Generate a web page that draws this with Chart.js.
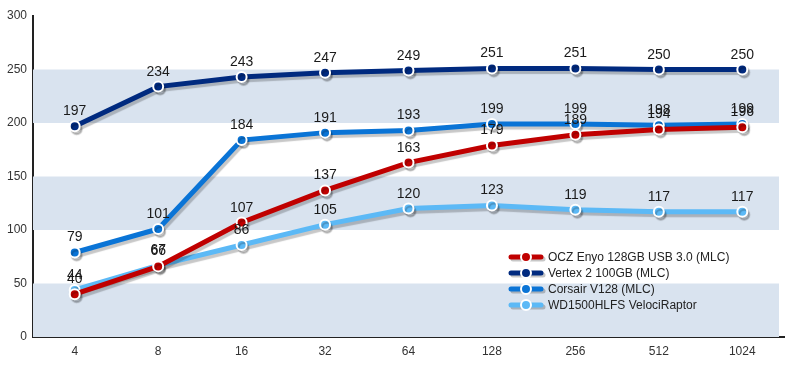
<!DOCTYPE html>
<html>
<head>
<meta charset="utf-8">
<script src="https://cdn.jsdelivr.net/npm/chart.js@4.4.1/dist/chart.umd.min.js"></script>
<style>
  body { margin: 0; background: #fff; }
  #wrap { width: 794px; height: 368px; }
</style>
</head>
<body>
<div id="wrap"><canvas id="ssdChart"></canvas></div>
<script>
// Datos del gráfico
const categories = ["4", "8", "16", "32", "64", "128", "256", "512", "1024"];
const seriesNames = ["OCZ Enyo 128GB USB 3.0 (MLC)", "Vertex 2 100GB (MLC)", "Corsair V128 (MLC)", "WD1500HLFS VelociRaptor"];
const oczEnyo = [40, 66, 107, 137, 163, 179, 189, 194, 196];
const vertex2 = [197, 234, 243, 247, 249, 251, 251, 250, 250];
const corsairV128 = [79, 101, 184, 191, 193, 199, 199, 198, 199];
const velociRaptor = [44, 67, 86, 105, 120, 123, 119, 117, 117];
const yTicks = [0, 50, 100, 150, 200, 250, 300];
const bands = [[0, 50], [100, 150], [200, 250]];

const colors = ["#c00000", "#002a7f", "#0a74d6", "#5cb9f6"];
const FONT = "'Liberation Sans', Arial, sans-serif";

// Bandas de fondo
const bandPlugin = {
    id: "bands",
    beforeDatasetsDraw(chart) {
        const { ctx, chartArea, scales } = chart;
        ctx.save();
        ctx.fillStyle = "#d9e3ef";
        bands.forEach(([a, b]) => {
            const y1 = scales.y.getPixelForValue(b);
            const y2 = scales.y.getPixelForValue(a);
            ctx.fillRect(chartArea.left, y1, chartArea.right - chartArea.left - 5, y2 - y1);
        });
        ctx.restore();
    }
};

// Sombra de las líneas
const shadowPlugin = {
    id: "shadow",
    beforeDatasetDraw(chart) {
        const ctx = chart.ctx;
        ctx.save();
        ctx.shadowColor = "rgba(0,0,0,0.22)";
        ctx.shadowOffsetX = 2;
        ctx.shadowOffsetY = 3;
        ctx.shadowBlur = 1;
    },
    afterDatasetDraw(chart) {
        chart.ctx.restore();
    }
};

// Etiquetas de valores y leyenda
const labelPlugin = {
    id: "labels",
    afterDatasetsDraw(chart) {
        const ctx = chart.ctx;
        ctx.save();
        ctx.font = "14px " + FONT;
        ctx.fillStyle = "#1a1a1a";
        ctx.textAlign = "center";
        ctx.textBaseline = "alphabetic";
        for (let i = chart.data.datasets.length - 1; i >= 0; i--) {
            const meta = chart.getDatasetMeta(i);
            meta.data.forEach((pt, j) => {
                ctx.fillText(String(chart.data.datasets[i].data[j]), pt.x, pt.y - 11);
            });
        }
        ctx.restore();

        // leyenda
        ctx.save();
        const lx = 511, ly = 257, step = 16;
        chart.data.datasets.forEach((ds, i) => {
            const y = ly + i * step;
            ctx.save();
            ctx.shadowColor = "rgba(0,0,0,0.22)";
            ctx.shadowOffsetX = 2;
            ctx.shadowOffsetY = 2;
            ctx.strokeStyle = ds.borderColor;
            ctx.lineWidth = 5;
            ctx.lineCap = "round";
            ctx.beginPath();
            ctx.moveTo(lx, y);
            ctx.lineTo(lx + 30, y);
            ctx.stroke();
            ctx.restore();
            ctx.beginPath();
            ctx.arc(lx + 15, y, 5, 0, Math.PI * 2);
            ctx.fillStyle = ds.borderColor;
            ctx.fill();
            ctx.lineWidth = 2;
            ctx.strokeStyle = "#fff";
            ctx.stroke();
            ctx.font = "12px " + FONT;
            ctx.fillStyle = "#222";
            ctx.textAlign = "left";
            ctx.textBaseline = "middle";
            ctx.fillText(ds.label, lx + 37, y + 1);
        });
        ctx.restore();
    }
};

const seriesData = [oczEnyo, vertex2, corsairV128, velociRaptor];

new Chart(document.getElementById("ssdChart"), {
    type: "line",
    data: {
        labels: categories,
        datasets: seriesData.map((values, i) => ({
            label: seriesNames[i],
            data: values,
            borderColor: colors[i],
            backgroundColor: colors[i],
            pointBackgroundColor: colors[i],
            pointBorderColor: "#fff",
            pointBorderWidth: 2,
            pointRadius: 5,
            borderWidth: 5,
            tension: 0,
            fill: false
        }))
    },
    options: {
        responsive: true,
        maintainAspectRatio: false,
        animation: false,
        layout: { padding: { top: 16, right: 10, left: 0, bottom: 0 } },
        plugins: {
            legend: { display: false },
            tooltip: { enabled: false }
        },
        scales: {
            x: {
                offset: true,
                grid: { display: false, drawTicks: false },
                border: { display: true, color: "#222", width: 2 },
                ticks: { color: "#333", font: { family: FONT, size: 12 }, padding: 7, maxRotation: 0 },
                afterFit: s => { s.height = 31; }
            },
            y: {
                min: 0,
                max: 300,
                afterBuildTicks: s => { s.ticks = yTicks.map(v => ({ value: v })); },
                grid: { display: false, drawTicks: false },
                border: { display: true, color: "#222", width: 2 },
                ticks: { color: "#333", font: { family: FONT, size: 12 }, padding: 6 },
                afterFit: s => { s.width = 33; }
            }
        }
    },
    plugins: [bandPlugin, shadowPlugin, labelPlugin]
});
</script>
</body>
</html>
